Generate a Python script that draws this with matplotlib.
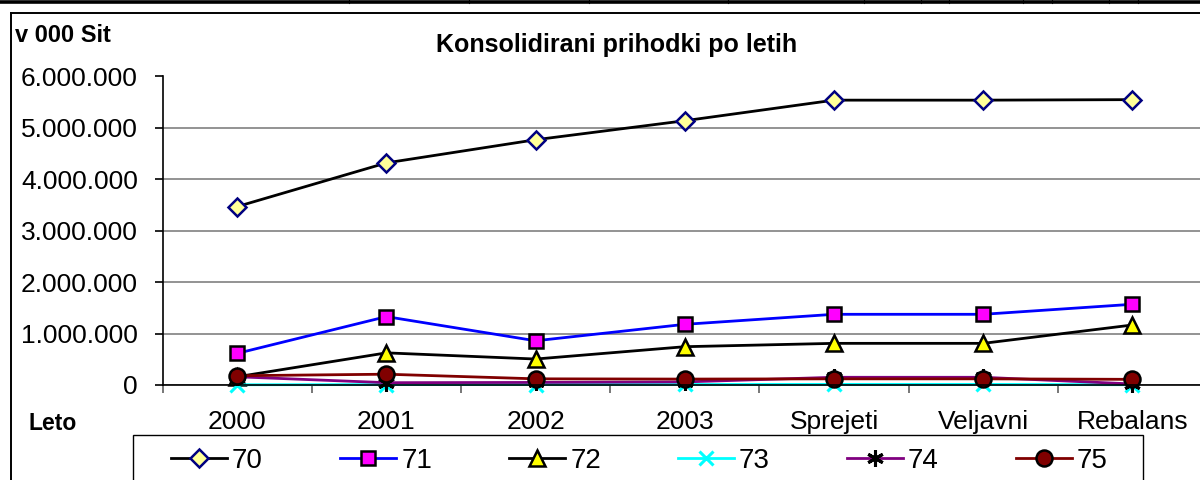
import matplotlib
matplotlib.use("Agg")
import matplotlib.pyplot as plt
from matplotlib.lines import Line2D
from matplotlib.patches import Rectangle
from matplotlib.ticker import FuncFormatter, FixedLocator

plt.rcParams["font.family"] = ["Liberation Sans", "DejaVu Sans"]

# ── Data (v 000 Sit) ──────────────────────────────────────────────────
categories = ["2000", "2001", "2002", "2003", "Sprejeti", "Veljavni", "Rebalans"]
series_names = ["70", "71", "72", "73", "74", "75"]

s70 = [3470000, 4320000, 4770000, 5140000, 5540000, 5540000, 5550000]
s71 = [615000, 1330000, 860000, 1180000, 1375000, 1375000, 1570000]
s72 = [160000, 625000, 505000, 745000, 810000, 810000, 1167000]
s73 = [5000, 8000, 9000, 10000, 12000, 12000, 5000]
s74 = [160000, 45000, 50000, 60000, 150000, 150000, 20000]
s75 = [180000, 210000, 120000, 115000, 120000, 120000, 110000]

W, H = 1200, 480
fig = plt.figure(figsize=(12, 4.8), dpi=100)
fig.patch.set_facecolor("white")

# axes placed in pixel terms (right edge runs a bit past the figure)
ax_left, ax_right, ax_top, ax_bottom = 162.6, 1207.0, 76.5, 385.0
ax = fig.add_axes([ax_left / W, (H - ax_bottom) / H,
                   (ax_right - ax_left) / W, (ax_bottom - ax_top) / H])

styles = [
    dict(color="black", marker="D", mfc="#FFFF99", mec="#000080", ms=9.5, mew=1.8),
    dict(color="#0000FF", marker="s", mfc="#FF00FF", mec="black", ms=10.5, mew=1.8),
    dict(color="black", marker="^", mfc="#FFFF00", mec="black", ms=11.5, mew=1.8),
    dict(color="#00FFFF", marker="x", mfc="#00FFFF", mec="#00FFFF", ms=10.5, mew=2.2),
    dict(color="#800080", marker=(6, 2, 0), mfc="black", mec="black", ms=12, mew=2.2),
    dict(color="#800000", marker="o", mfc="#800000", mec="black", ms=11.5, mew=1.8),
]
values = [s70, s71, s72, s73, s74, s75]

x = list(range(len(categories)))
handles = []
for name, vals, st in zip(series_names, values, styles):
    ln, = ax.plot(x, vals, lw=2.0, label=name, clip_on=False, **st)
    handles.append(ln)

ax.set_xlim(-0.5, len(categories) - 0.5)
ax.set_ylim(0, 6000000)

# gridlines + axes look (Excel style)
ax.set_yticks(range(0, 6000001, 1000000))
ax.yaxis.set_major_formatter(FuncFormatter(lambda v, p: f"{int(v):,}".replace(",", ".")))
ax.yaxis.grid(True, color="#808080", lw=1.2)
ax.set_axisbelow(True)
for sp in ["top", "right"]:
    ax.spines[sp].set_visible(False)
ax.spines["left"].set_linewidth(1.2)
ax.spines["bottom"].set_linewidth(1.2)
ax.tick_params(axis="y", direction="out", length=5.8, width=1.2, pad=12,
               labelsize=19)

ax.set_xticks(x)
ax.set_xticklabels(categories)
ax.xaxis.set_minor_locator(FixedLocator([i - 0.5 for i in range(len(categories) + 1)]))
ax.tick_params(axis="x", which="major", length=0, pad=18, labelsize=19)
ax.tick_params(axis="x", which="minor", direction="out", length=5.8, width=1.2,
               color="#606060")

# texts
fig.text(616.7 / W, (H - 51.7) / H, "Konsolidirani prihodki po letih",
         ha="center", va="baseline", fontsize=18, fontweight="bold")
fig.text(15 / W, (H - 41.7) / H, "v 000 Sit", ha="left", va="baseline",
         fontsize=17, fontweight="bold")
fig.text(28.3 / W, (H - 430) / H, "Leto", ha="left", va="baseline",
         fontsize=16.5, fontweight="bold")

# legend frame drawn separately, legend itself frameless
fig.patches.append(Rectangle((133 / W, -0.05), (1143 - 133) / W, 0.05 + (H - 435) / H,
                             transform=fig.transFigure, fill=False,
                             edgecolor="black", lw=1.0))
fig.legend(handles=handles, loc="center", ncol=6, mode="expand",
           bbox_to_anchor=(171 / W, (H - 461) / H - 0.02, (1108 - 171) / W, 0.04),
           bbox_transform=fig.transFigure, frameon=False, fontsize=20,
           handlelength=2.0, handletextpad=0.2, borderpad=0, borderaxespad=0)

# outer chart frame and the table border line at the very top
fig.add_artist(Line2D([11 / W, 11 / W], [-0.01, (H - 13) / H], color="black",
                      lw=1.4, transform=fig.transFigure))
fig.add_artist(Line2D([11 / W, 1.0], [(H - 13) / H, (H - 13) / H], color="black",
                      lw=1.4, transform=fig.transFigure))
fig.add_artist(Line2D([0, 1.0], [(H - 2) / H, (H - 2) / H], color="black",
                      lw=2.6, transform=fig.transFigure))
for tx in [349, 469, 589, 728, 864, 921, 949, 1023, 1052, 1109, 1138]:
    fig.add_artist(Line2D([tx / W, tx / W], [(H - 3) / H, 1.0], color="black",
                          lw=0.8, transform=fig.transFigure))

fig.savefig("out.png", dpi=100, facecolor="white")
